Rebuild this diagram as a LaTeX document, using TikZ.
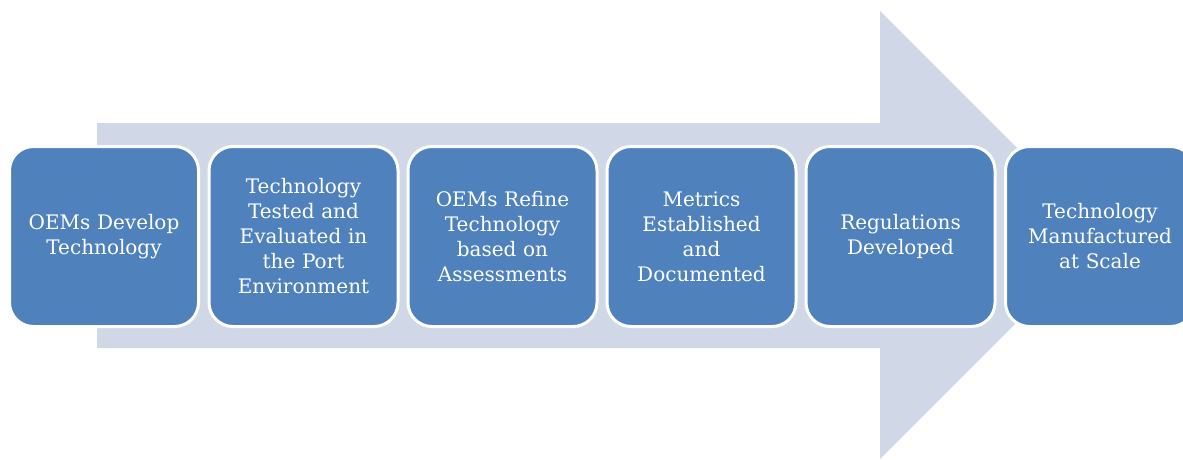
\documentclass[tikz,border=0pt]{standalone}
\usepackage{fontspec}
\setmainfont{DejaVu Serif}
\definecolor{stepblue}{HTML}{4F81BD}
\definecolor{arrowfill}{HTML}{D0D8E8}
\begin{document}
\begin{tikzpicture}[x=1pt,y=-1pt,
  stepbox/.style={draw=white,line width=3pt,fill=stepblue,rounded corners=24pt,
    minimum width=189pt,minimum height=180pt,text width=182pt,align=center,
    text=white,inner sep=0pt,font=\fontsize{20}{25}\selectfont}]
\useasboundingbox (0,0) rectangle (1183,459);
\begin{scope}
\clip (0,0) rectangle (1183,459);
\fill[arrowfill] (97,123) -- (880,123) -- (880,11) -- (1104,235) -- (880,459) -- (880,348) -- (97,348) -- cycle;
\node[stepbox] (s1) at (104,236.5) {OEMs Develop\\Technology};
\node[stepbox] (s2) at (303.5,236.5) {Technology\\Tested and\\Evaluated in\\the Port\\Environment};
\node[stepbox] (s3) at (502.5,236.5) {OEMs Refine\\Technology\\based on\\Assessments};
\node[stepbox] (s4) at (701.5,236.5) {Metrics\\Established\\and\\Documented};
\node[stepbox] (s5) at (900.5,236.5) {Regulations\\Developed};
\node[stepbox] (s6) at (1100,236.5) {Technology\\Manufactured\\at Scale};
\end{scope}
\end{tikzpicture}
\end{document}
